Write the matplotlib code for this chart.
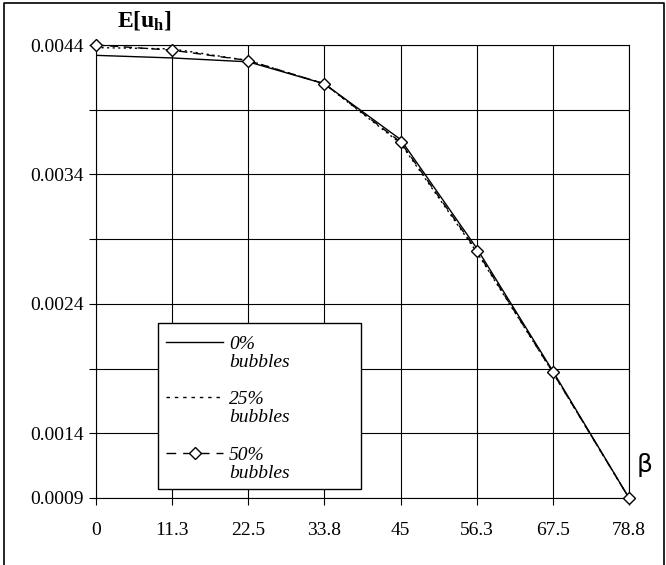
import matplotlib
matplotlib.use("Agg")
import matplotlib.pyplot as plt
from matplotlib.lines import Line2D
from matplotlib.patches import Rectangle

# angle positions and their printed labels
beta = [0, 11.25, 22.5, 33.75, 45, 56.25, 67.5, 78.75]
beta_labels = ["0", "11.3", "22.5", "33.8", "45", "56.3", "67.5", "78.8"]

# mean horizontal velocity for each bubble fraction
u_0 = [0.00432, 0.00430, 0.00427, 0.00410, 0.00367, 0.00283, 0.00188, 0.0009]
u_25 = [0.00438, 0.00437, 0.00428, 0.00410, 0.00364, 0.00280, 0.00187, 0.0009]
u_50 = [0.00440, 0.00436, 0.00428, 0.00410, 0.00365, 0.00281, 0.00187, 0.0009]

y_ticks = [0.0009, 0.0014, 0.0019, 0.0024, 0.0029, 0.0034, 0.0039, 0.0044]
y_labels = ["0.0009", "0.0014", "", "0.0024", "", "0.0034", "", "0.0044"]

series_names = ["0%\nbubbles", "25%\nbubbles", "50%\nbubbles"]

plt.rcParams["font.family"] = ["Liberation Serif", "DejaVu Serif"]
plt.rcParams["mathtext.fontset"] = "custom"
plt.rcParams["mathtext.rm"] = "Liberation Serif"
plt.rcParams["mathtext.bf"] = "Liberation Serif:bold"

W, H = 666, 565
fig = plt.figure(figsize=(W / 100, H / 100), dpi=100)
L, R, T, B = 96, 629, 45, 498
ax = fig.add_axes([L / W, 1 - B / H, (R - L) / W, (B - T) / H])

lw = 1.0
ax.plot(beta, u_0, color="black", lw=lw, ls="-", zorder=3)
ax.plot(beta, u_25, color="black", lw=lw, ls=(0, (1.5, 2.5)), zorder=3)
ax.plot(beta, u_50, color="black", lw=lw, ls=(0, (6, 4)), marker="D",
        markersize=6, markerfacecolor="white", markeredgecolor="black",
        markeredgewidth=1.0, zorder=4, clip_on=False)

ax.set_xlim(beta[0], beta[-1])
ax.set_ylim(y_ticks[0], y_ticks[-1])
ax.set_xticks(beta)
ax.set_xticklabels(beta_labels)
ax.set_yticks(y_ticks)
ax.set_yticklabels(y_labels)
ax.grid(True, color="black", lw=0.8)
ax.set_axisbelow(True)
for s in ax.spines.values():
    s.set_linewidth(0.8)
ax.tick_params(axis="both", direction="out", length=5, width=0.8,
               labelsize=14, colors="black")
ax.tick_params(axis="x", pad=12)
ax.tick_params(axis="y", pad=4)

ax.text(0.09, 1.0 + 25 / (B - T), r"$\mathbf{E[u_h]}$", transform=ax.transAxes,
        ha="center", va="center", fontsize=17)
fig.text(645 / W, 1 - 465 / H, "β", ha="center", va="center", fontsize=18,
         family="DejaVu Sans")


def ax_xy(px, py):
    return (px - L) / (R - L), (B - py) / (B - T)


# legend drawn by hand so the handles sit on the first text line
x0, y0 = ax_xy(158, 489)
x1, y1 = ax_xy(361, 322.7)
ax.add_patch(Rectangle((x0, y0), x1 - x0, y1 - y0, transform=ax.transAxes,
                       facecolor="white", edgecolor="black", lw=1.0, zorder=6))
styles = [dict(ls="-"), dict(ls=(0, (2.5, 3.5))),
          dict(ls=(0, (7, 5)), marker="D", markersize=6, markevery=[1],
               markerfacecolor="white", markeredgecolor="black")]
rows = [342, 397, 453]
for name, st, py in zip(series_names, styles, rows):
    hx0, hy = ax_xy(166, py)
    hx1, _ = ax_xy(223, py)
    hm, _ = ax_xy(194.5, py)
    ax.add_line(Line2D([hx0, hm, hx1], [hy, hy, hy], transform=ax.transAxes,
                       color="black", lw=lw, zorder=7, **st))
    tx, ty = ax_xy(229, py + 11.5)
    ax.text(tx, ty, name, transform=ax.transAxes, ha="left", va="center",
            fontsize=14, style="italic", linespacing=1.15, zorder=7)

# outer frame around the figure
fig.add_artist(Line2D([4 / W, 4 / W, 664 / W, 664 / W], [0, 1 - 3 / H, 1 - 3 / H, 0],
                      transform=fig.transFigure, color="black", lw=1.2))

fig.savefig("out.png", dpi=100)
